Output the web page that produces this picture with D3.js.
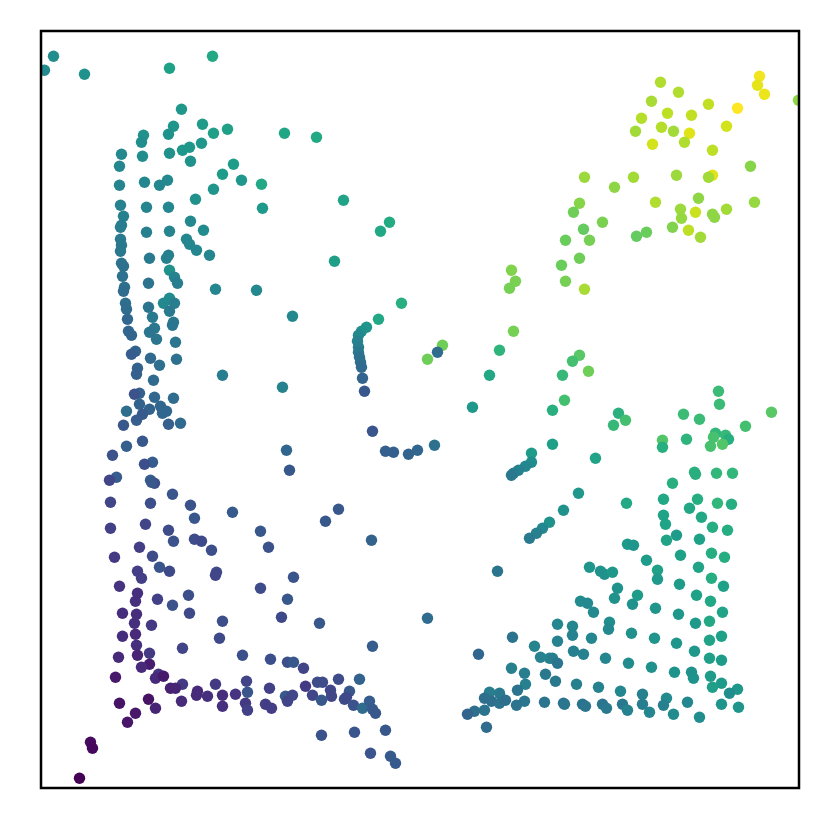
<!DOCTYPE html>
<html>
<head>
<meta charset="utf-8">
<script src="https://cdn.jsdelivr.net/npm/d3@7"></script>
<style>
    html, body { margin: 0; padding: 0; background: #fff; }
</style>
</head>
<body>
<div id="chart"></div>
<script>
// every point is [x, y, colour value]
const upperLeft = [
    [11,732,.49],[2,718,.475],[42,714,.50],[127,720,.57],[170,732,.60],[139,679,.53],[131,662,.52],[126,654,.51],
    [160,664,.55],[171,655,.56],[185,659,.57],[242,655,.59],[101,653,.50],[99,646,.49],[79,634,.47],[100,632,.49],
    [127,635,.50],[140,638,.53],[147,641,.53],[159,645,.53],[148,627,.51],[77,622,.46],[191,624,.55],[180,614,.55],
    [199,608,.53],[219,604,.60],[171,599,.52],[77,603,.45],[102,606,.46],[117,603,.46],[125,608,.47],[78,583,.44],
    [81,572,.43],[79,563,.42],[78,561,.42],[104,581,.45],[126,581,.46],[153,589,.50],[220,580,.54],[148,567,.47],
    [161,558,.48],[104,556,.43],[127,557,.45],[78,549,.41],[79,543,.40],[78,537,.40],[144,549,.46],[147,544,.46],
    [154,538,.46],[167,533,.46],[107,530,.41],[126,533,.43],[124,530,.43],[79,525,.38],[81,522,.37],[127,518,.50],
    [132,511,.44],[135,505,.42],[80,512,.37],[106,505,.38],[82,501,.36],[173,499,.46],[214,498,.47]
];
const upperMiddle = [
    [274,651,.60],[301,588,.58],[347,566,.61],[338,557,.60],[292,527,.56],[469,518,.81],[473,507,.80],[467,500,.79]
];
const upperRight = [
    [717,712,.98],[715,703,.96],[722,694,.97],[756,688,.83],[618,706,.88],[636,696,.88],[609,687,.87],[666,684,.91],
    [695,680,1],[625,675,.90],[649,673,.91],[599,670,.89],[684,662,.93],[619,661,.89],[593,657,.86],[631,657,.86],
    [647,655,.95],[642,646,.88],[610,644,.93],[670,638,.90],[542,611,.85],[591,611,.86],[572,601,.83],[634,613,.85],
    [670,613,.95],[666,611,.86],[708,622,.82],[656,590,.83],[613,586,.88],[537,585,.82],[531,576,.78],[712,586,.84],
    [638,579,.85],[639,570,.84],[653,576,.92],[670,574,.83],[672,571,.83],[684,579,.86],[560,566,.80],[541,559,.76],
    [630,561,.81],[646,558,.90],[658,551,.86],[604,556,.77],[594,552,.76],[523,548,.77],[547,548,.79],[537,530,.78],
    [519,523,.77],[523,507,.79],[542,499,.87]
];
const middleLeft = [
    [81,497,.35],[83,485,.36],[84,479,.35],[106,481,.38],[127,490,.48],[121,485,.47],[132,485,.42],[127,477,.41],
    [110,471,.41],[85,469,.33],[131,466,.40],[130,463,.39],[86,457,.33],[89,453,.32],[112,460,.40],[107,456,.39],
    [114,449,.39],[133,446,.39],[93,437,.31],[89,434,.29],[108,430,.34],[117,423,.36],[134,429,.37],[180,413,.42],
    [240,401,.44],[95,420,.31],[94,414,.30],[111,408,.34],[97,395,.30],[92,394,.25],[112,391,.33],[131,390,.35],
    [97,384,.31],[118,382,.33],[107,379,.31],[100,374,.28],[84,377,.36],[124,377,.33],[120,375,.33],[94,368,.29],
    [81,363,.27],[126,364,.30],[138,365,.34],[100,347,.27],[84,342,.30],[70,333,.25],[110,326,.29],[102,324,.24],
    [244,338,.33],[247,318,.27],[74,311,.29],[67,308,.21],[108,308,.30],[112,305,.24],[109,306,.27],[130,294,.26],
    [68,286,.21],[108,285,.24],[148,283,.25],[152,270,.27],[190,276,.28],[68,260,.19],[103,264,.20],[126,258,.23],
    [218,257,.27],[131,247,.25],[152,249,.23],[159,247,.22],[169,238,.24],[226,241,.25],[97,241,.18]
];
const middleCentre = [
    [250,472,.47],[359,485,.63],[336,469,.60],[324,461,.52],[319,457,.50],[316,453,.47],[315,447,.44],[316,441,.42],
    [316,436,.40],[317,431,.37],[318,426,.36],[319,421,.34],[320,410,.32],[322,397,.27],[330,357,.26],[343,337,.30],
    [351,336,.30],[366,334,.32],[375,338,.33],[392,343,.37],[400,443,.78],[385,429,.78],[395,436,.35],[471,457,.79],
    [457,438,.65],[447,413,.60],[430,381,.53],[489,335,.55],[489,326,.49],[483,322,.46],[476,318,.44],[471,315,.42],
    [469,313,.40],[296,279,.27],[283,267,.27],[329,248,.31],[507,266,.50],[500,260,.46],[494,255,.43],[487,250,.41]
];
const middleRight = [
    [537,433,.74],[530,427,.70],[546,417,.78],[520,413,.67],[522,388,.70],[510,378,.63],[576,375,.64],[583,368,.70],
    [571,363,.67],[676,397,.68],[677,384,.68],[641,374,.68],[657,369,.68],[729,376,.74],[703,362,.70],[644,349,.65],
    [620,348,.73],[620,341,.63],[673,355,.66],[671,351,.71],[683,353,.67],[686,349,.63],[680,344,.73],[668,342,.71],
    [510,344,.56],[553,330,.58],[652,316,.64],[653,314,.63],[674,315,.66],[690,315,.66],[630,305,.63],[536,295,.53],
    [521,278,.50],[584,285,.60],[621,289,.60],[655,289,.62],[675,285,.66],[689,284,.62],[647,280,.60],[621,273,.58],
    [623,264,.58],[659,271,.60],[670,261,.62],[685,258,.62],[624,248,.58],[634,253,.55],[657,249,.57],[585,244,.54],
    [591,243,.52]
];
const lowerLeft = [
    [72,231,.17],[110,232,.23],[95,217,.18],[99,210,.18],[117,221,.26],[127,217,.22],[174,216,.22],[173,213,.21],
    [218,200,.23],[77,202,.15],[95,195,.14],[93,187,.14],[115,189,.19],[146,193,.24],[130,183,.25],[245,189,.27],
    [147,175,.22],[80,175,.13],[94,174,.13],[92,165,.14],[109,163,.17],[180,167,.24],[239,171,.22],[177,150,.22],
    [80,152,.13],[93,154,.12],[94,143,.14],[95,133,.10],[107,135,.17],[140,140,.20],[200,133,.24],[228,129,.24],
    [245,126,.24],[76,131,.12],[107,124,.08],[99,121,.12],[73,111,.07],[116,114,.15],[113,110,.12],[121,112,.07],
    [140,104,.17],[128,100,.09],[133,100,.10],[173,104,.17],[204,107,.20],[227,100,.19],[155,97,.12],[154,93,.12],
    [165,92,.14],[180,93,.13],[193,94,.15],[205,96,.26],[139,87,.12],[77,85,.05],[106,89,.05],[113,80,.10],
    [93,75,.06],[85,66,.06],[180,82,.14],[203,85,.17],[205,78,.19],[223,84,.18],[229,80,.18],[243,92,.27],
    [245,87,.20],[48,46,.03],[50,40,.02],[37,10,0]
];
const lowerMiddle = [
    [251,211,.26],[277,165,.27],[330,142,.29],[385,170,.35],[455,217,.38],[470,151,.38],[436,134,.33],[492,142,.45],
    [498,131,.44],[507,130,.45],[469,120,.43],[482,115,.42],[503,114,.40],[483,104,.43],[475,98,.38],[502,86,.39],
    [482,87,.39],[474,83,.38],[447,96,.42],[457,95,.40],[442,90,.36],[449,87,.36],[457,85,.38],[463,88,.36],
    [442,78,.38],[432,77,.36],[425,74,.32],[444,61,.35],[251,126,.27],[261,120,.20],[263,102,.17],[275,106,.23],
    [280,106,.23],[296,109,.23],[317,109,.31],[270,93,.21],[250,93,.21],[279,88,.27],[288,98,.21],[289,92,.21],
    [302,89,.23],[307,97,.27],[304,91,.22],[311,83,.25],[320,80,.35],[327,87,.29],[330,79,.28],[333,75,.27],
    [343,58,.27],[279,53,.25],[312,56,.26],[328,35,.26],[348,32,.28],[353,25,.28]
];
const lowerRight = [
    [638,233,.57],[669,235,.62],[682,231,.62],[604,228,.55],[656,221,.58],[547,221,.52],[558,217,.51],[562,214,.50],
    [570,216,.53],[615,218,.57],[615,209,.54],[669,210,.62],[637,204,.55],[681,202,.57],[575,200,.51],[572,190,.50],
    [595,193,.55],[590,184,.51],[654,193,.57],[668,187,.60],[538,187,.48],[545,185,.47],[551,176,.47],[613,180,.52],
    [636,174,.53],[680,176,.58],[667,167,.60],[653,165,.54],[515,164,.46],[530,162,.46],[530,153,.44],[567,166,.49],
    [566,159,.47],[589,155,.50],[612,150,.52],[634,145,.52],[679,152,.57],[667,148,.58],[652,137,.53],[515,147,.44],
    [549,150,.46],[531,137,.43],[541,134,.44],[563,130,.46],[586,125,.48],[609,121,.50],[632,116,.51],[649,116,.50],
    [651,110,.51],[667,130,.56],[679,128,.55],[668,112,.55],[679,105,.54],[670,101,.56],[695,99,.53],[687,95,.49],
    [510,130,.42],[515,125,.39],[513,107,.40],[534,104,.43],[556,101,.44],[578,97,.46],[600,94,.43],[624,90,.48],
    [621,83,.43],[600,84,.42],[607,76,.46],[631,74,.48],[645,86,.46],[657,71,.49],[679,84,.52],[696,81,.52],
    [521,85,.36],[522,84,.39],[540,84,.38],[543,82,.39],[560,84,.39],[564,80,.41],[580,84,.40],[585,78,.44]
];

const width = 830,
    height = 830;

const points = [].concat(upperLeft, upperMiddle, upperRight, middleLeft, middleCentre, middleRight, lowerLeft, lowerMiddle, lowerRight);

const xScale = d3.scaleLinear().domain([0, 757]).range([42.5, 799.5]);
const yScale = d3.scaleLinear().domain([0, 757]).range([788.3, 31.3]);
const colorScale = d3.scaleSequential(d3.interpolateViridis).domain([0, 1]);

const svg = d3.select('#chart').append('svg')
    .attr('width', width)
    .attr('height', height)
    .style('display', 'block');

svg.append('clipPath')
    .attr('id', 'plotClip')
    .append('rect')
    .attr('x', 41)
    .attr('y', 31)
    .attr('width', 758)
    .attr('height', 757);

svg.append('g')
    .attr('clip-path', 'url(#plotClip)')
    .selectAll('circle')
    .data(points)
    .enter()
    .append('circle')
    .attr('cx', d => xScale(d[0]))
    .attr('cy', d => yScale(d[1]))
    .attr('r', 5.7)
    .attr('fill', d => colorScale(d[2]));

// frame
svg.append('rect')
    .attr('x', 41)
    .attr('y', 31)
    .attr('width', 758)
    .attr('height', 757)
    .attr('fill', 'none')
    .attr('stroke', '#000')
    .attr('stroke-width', 2.5);
</script>
</body>
</html>
